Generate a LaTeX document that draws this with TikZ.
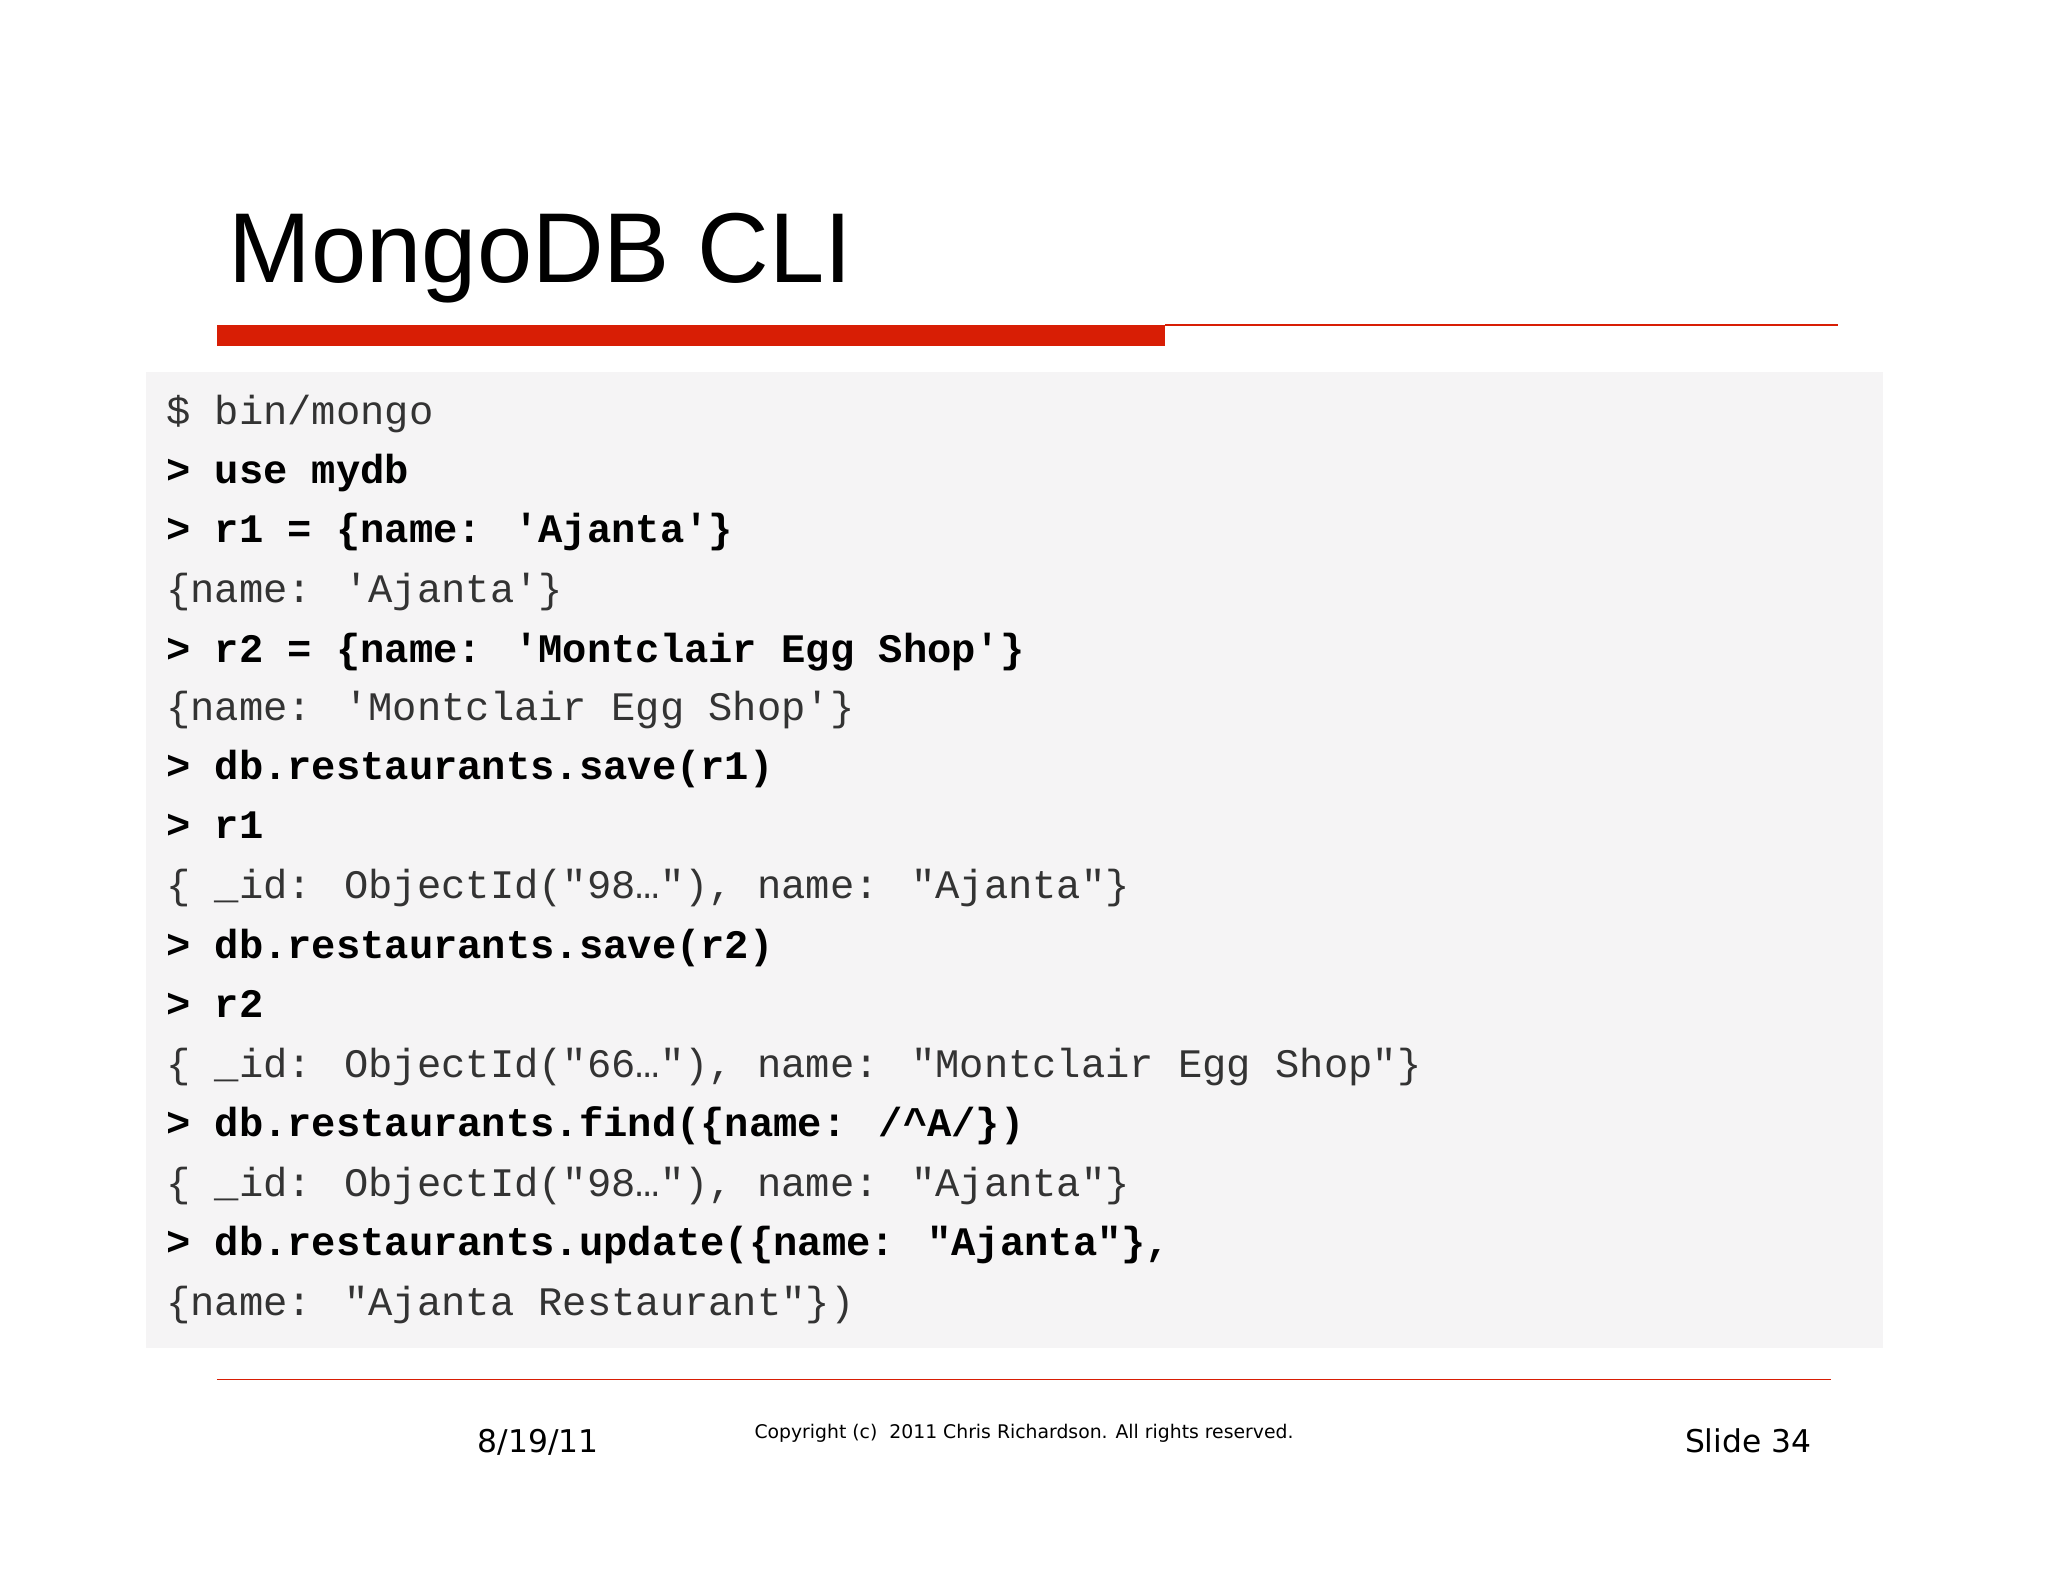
\documentclass[tikz,border=0pt]{standalone}
\usepackage{fontspec}
\setmainfont{Liberation Sans}
\newfontfamily\codefont{Liberation Mono}
\newfontfamily\footfont{DejaVu Sans}
\definecolor{slidered}{HTML}{D81E05}
\definecolor{boxgray}{HTML}{F5F4F5}
\definecolor{outgray}{HTML}{333333}
\begin{document}
\begin{tikzpicture}[x=1pt,y=-1pt,
  codeline/.style={anchor=base west,inner sep=0pt,font=\codefont\fontsize{31}{31}\selectfont},
  outline/.style={codeline,text=outgray},
  cmdline/.style={codeline,font=\codefont\bfseries\fontsize{31}{31}\selectfont,text=black}]
\useasboundingbox[fill=white] (0,0) rectangle (1568,1211);
\node[anchor=base west,inner sep=0pt,font=\fontsize{76}{76}\selectfont] (title) at (175,216) {MongoDB CLI};
\fill[slidered] (166,249) rectangle (892,265);
\draw[slidered,line width=1.2pt] (892,249) -- (1407,249);
\fill[boxgray] (112,285) rectangle (1442,1032);
\node[outline] (l1) at (127,325) {\$ bin/mongo};
\node[cmdline] (l2) at (127,370) {> use mydb};
\node[cmdline] (l3) at (127,415) {> r1 = \{name: 'Ajanta'\}};
\node[outline] (l4) at (127,461) {\{name: 'Ajanta'\}};
\node[cmdline] (l5) at (127,507) {> r2 = \{name: 'Montclair Egg Shop'\}};
\node[outline] (l6) at (127,552) {\{name: 'Montclair Egg Shop'\}};
\node[cmdline] (l7) at (127,597) {> db.restaurants.save(r1)};
\node[cmdline] (l8) at (127,642) {> r1};
\node[outline] (l9) at (127,688) {\{ \_id: ObjectId("98…"), name: "Ajanta"\}};
\node[cmdline] (l10) at (127,734) {> db.restaurants.save(r2)};
\node[cmdline] (l11) at (127,779) {> r2};
\node[outline] (l12) at (127,825) {\{ \_id: ObjectId("66…"), name: "Montclair Egg Shop"\}};
\node[cmdline] (l13) at (127,870) {> db.restaurants.find(\{name: /\textasciicircum A/\})};
\node[outline] (l14) at (127,916) {\{ \_id: ObjectId("98…"), name: "Ajanta"\}};
\node[cmdline] (l15) at (127,961) {> db.restaurants.update(\{name: "Ajanta"\},};
\node[outline] (l16) at (127,1007) {\{name: "Ajanta Restaurant"\})};
\draw[slidered,line width=0.8pt] (166,1056) -- (1402,1056);
\node[anchor=base,inner sep=0pt,font=\footfont\fontsize{24}{24}\selectfont] (date) at (412,1112) {8/19/11};
\node[anchor=base,inner sep=0pt,font=\footfont\fontsize{14.4}{14.4}\selectfont] (copy) at (784,1101) {Copyright (c)\ \ 2011 Chris Richardson. All rights reserved.};
\node[anchor=base east,inner sep=0pt,font=\footfont\fontsize{24}{24}\selectfont] (slide) at (1387,1112) {Slide 34};
\end{tikzpicture}
\end{document}
